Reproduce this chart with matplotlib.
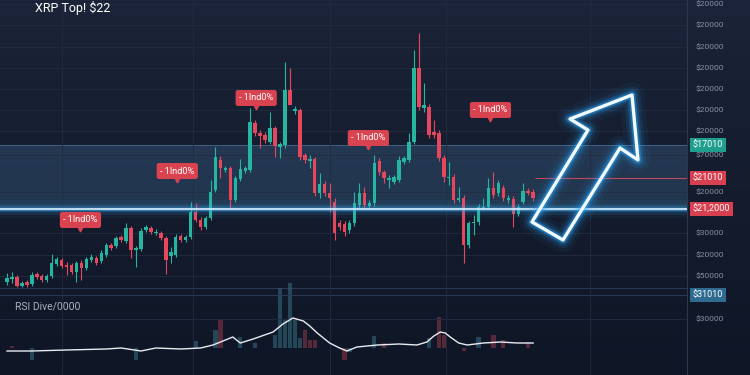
import numpy as np
import matplotlib.pyplot as plt
from matplotlib.patches import Polygon
from matplotlib.colors import LinearSegmentedColormap

plt.rcParams['font.family'] = ['Roboto', 'DejaVu Sans']

# candles (price units = px above panel bottom)
opens = [6, 9, 11, 2, 6, 4, 14, 12, 8, 12, 24, 28, 23, 23, 16, 25, 20, 28, 30, 27,
         33, 43, 42, 51, 47, 60, 38, 39, 58, 60, 55, 55, 50, 32, 33, 52, 48, 51, 76, 68,
         61, 70, 98, 128, 118, 120, 88, 109, 117, 118, 165, 155, 153, 146, 160, 141, 143, 198, 177, 178,
         133, 127, 129, 95, 104, 95, 86, 65, 64, 58, 65, 83, 95, 82, 85, 127, 116, 108, 106, 108,
         126, 128, 146, 220, 180, 181, 156, 155, 130, 110, 111, 88, 90, 43, 65, 66, 80, 81, 100, 95,
         100, 88, 89, 74, 86, 97, 96]
highs = [15, 16, 13, 7, 8, 16, 16, 14, 14, 34, 31, 30, 26, 25, 27, 28, 31, 34, 32, 38,
         45, 45, 52, 53, 65, 62, 42, 60, 63, 62, 59, 57, 52, 41, 54, 54, 53, 86, 85, 71,
         72, 108, 141, 132, 122, 122, 112, 129, 122, 180, 168, 158, 156, 176, 162, 146, 226, 220, 182, 180,
         135, 133, 131, 115, 107, 105, 90, 68, 67, 68, 96, 105, 101, 88, 133, 130, 118, 113, 113, 132,
         132, 155, 238, 255, 205, 184, 168, 158, 133, 126, 114, 101, 93, 67, 73, 84, 90, 110, 116, 108,
         103, 93, 92, 84, 105, 100, 99]
lows = [3, 5, 1, 1, 1, 2, 9, 6, 6, 10, 22, 20, 13, 14, 6, 8, 18, 26, 23, 25,
        31, 38, 40, 46, 45, 30, 21, 37, 56, 54, 53, 48, 14, 25, 31, 46, 46, 49, 66, 58,
        59, 68, 96, 110, 116, 80, 86, 107, 115, 116, 152, 140, 145, 144, 131, 130, 140, 184, 174, 128,
        125, 120, 92, 90, 92, 76, 48, 58, 52, 55, 62, 80, 80, 80, 82, 113, 105, 100, 104, 106,
        124, 126, 144, 178, 176, 150, 150, 127, 106, 103, 85, 86, 25, 40, 53, 63, 78, 79, 90, 92,
        87, 85, 61, 72, 84, 93, 87]
closes = [10, 11, 2, 5, 3, 13, 11, 8, 12, 25, 29, 22, 21, 16, 25, 20, 29, 31, 25, 35,
          43, 40, 50, 48, 60, 38, 40, 57, 61, 56, 56, 50, 28, 36, 51, 48, 51, 76, 68, 61,
          70, 96, 131, 120, 120, 88, 110, 119, 120, 166, 155, 152, 148, 160, 142, 144, 198, 183, 179, 131,
          128, 129, 95, 104, 95, 90, 55, 61, 56, 65, 85, 95, 83, 85, 125, 116, 110, 110, 111, 128,
          130, 146, 220, 181, 183, 153, 153, 130, 111, 111, 88, 90, 43, 65, 66, 81, 81, 100, 93, 105,
          90, 90, 74, 81, 97, 95, 90]

# right axis labels
tick_prices = [284, 263, 241, 220, 199, 178, 157, 133, 96, 55, 33, 12]
tick_labels = ['$20000', '$20000', '$20000', '$20000', '$20000', '$20000', '$20000',
               '$70000', '$20000', '$30000', '$20000', '$50000']

# price tags on the axis
tag_prices = [143, 110, 79]
tag_labels = ['$17010', '$21010', '$21,2000']
tag_colors = ['#1f9e8f', '#d9404f', '#d9404f']

# zone and levels
zone_low, zone_high = 79, 143
support = 79
resist = 110
resist_start = 106.4

# callouts
note_idx = [14.8, 34.3, 50.2, 72.8, 97.4]
note_price = [68, 117, 190, 150, 178]
note_text = '- 1lnd0%'

grid_idx = [11, 37.5, 65, 88.5, 117.5]

# RSI panel
rsi_idx = [0, 5, 12, 20, 23, 27, 30, 35, 39, 41.5, 45.5, 47, 49.6, 53.6, 55.6, 57.6, 59.7, 61, 62.5,
           65, 67, 68.5, 70.5, 74.6, 79, 82.6, 84.6, 86, 87.3, 88.3, 89.3, 91, 92.7, 96, 99.4, 102.8, 106]
rsi_val = [24, 24, 25, 26, 27, 24, 27, 26, 27, 30, 38, 32, 36, 43, 51, 57, 54, 49, 42,
           32, 27, 24, 28, 30, 31, 30, 33, 39, 43, 42, 38, 32, 30, 32, 33, 32, 32]
hist_idx = [1, 5, 26, 38, 42, 43, 47, 50, 54, 55, 56, 57, 58, 59, 60, 61, 62, 68, 69, 74,
            76, 85, 87, 88, 92, 95, 98, 100, 105]
hist_val = [2, -12, -12, 7, 18, 28, 11, 5, 13, 60, 28, 65, 30, 10, 18, 8, 8, -12, -4, 12,
            5, 10, 31, 13, -3, 11, 13, 8, 6]
hist_up = [0, 1, 1, 1, 1, 0, 1, 1, 1, 1, 1, 1, 1, 1, 0, 0, 0, 0, 1, 1,
           0, 1, 0, 0, 0, 1, 0, 0, 0]
rsi_base = 27
rsi_tick, rsi_tick_label = 56, '$30000'
rsi_tag, rsi_tag_label = 80, '$31010'

UP, DOWN = '#26b5a0', '#e5485c'
GRID = '#222c41'
x_max = 137.0

fig = plt.figure(figsize=(7.5, 3.75), dpi=100)

# background gradient
bg = fig.add_axes([0, 0, 1, 1], zorder=0)
cmap = LinearSegmentedColormap.from_list('bg', ['#1b2438', '#141c2e', '#0f1626'])
bg.imshow(np.linspace(0, 1, 256).reshape(-1, 1), aspect='auto', cmap=cmap, extent=[0, 1, 0, 1])
bg.axis('off')

# price panel
ax = fig.add_axes([0, 0.232, 0.916, 0.768], zorder=1)
ax.set_facecolor('none')
x = np.arange(len(opens))
o = np.array(opens); c = np.array(closes)
cols = [UP if cc >= oo else DOWN for oo, cc in zip(o, c)]
ax.axhspan(zone_low, zone_high, color='#4a7fae', alpha=0.27, lw=0, zorder=1)
ax.axhline(zone_high, color='#5d87ad', lw=0.6, alpha=0.6, zorder=1)
ax.vlines(x, lows, highs, colors=cols, lw=0.8, zorder=3)
body = np.maximum(np.abs(c - o), 1.2)
ax.bar(x, body, bottom=np.minimum(o, c), width=0.7, color=cols, zorder=4)

# glowing support line
for lw, a in [(13, 0.05), (8, 0.1), (4.5, 0.2), (2.4, 0.45)]:
    ax.axhline(support, color='#3fb4ff', lw=lw, alpha=a, zorder=5)
ax.axhline(support, color='#eaf7ff', lw=1.1, zorder=6)
ax.hlines(resist, resist_start, x_max, color='#c2485a', lw=0.8, zorder=2)

for i, p in zip(note_idx, note_price):
    ax.text(i, p, note_text, ha='center', va='center', fontsize=6.6, color='white', zorder=8,
            bbox=dict(boxstyle='round,pad=0.38,rounding_size=0.25', fc='#d9434f', ec='none'))
    ax.plot(i, p - 9, marker='v', ms=3.5, color='#d9434f', zorder=8)

ax.set_xlim(-1.41, x_max)
ax.set_ylim(0, 288)
ax.yaxis.tick_right()
ax.set_yticks(tick_prices, tick_labels)
ax.set_xticks(grid_idx)
ax.tick_params(axis='y', length=0, pad=6, labelsize=6, labelcolor='#8791a5')
ax.tick_params(axis='x', length=0, labelbottom=False)
ax.grid(color=GRID, lw=0.6, zorder=0)
for s in ['top', 'left']:
    ax.spines[s].set_visible(False)
ax.spines['right'].set_color('#2c3850')
ax.spines['bottom'].set_color('#2c3850')

for p, lab, col in zip(tag_prices, tag_labels, tag_colors):
    ax.text(1.008, p, lab, transform=ax.get_yaxis_transform(), ha='left', va='center',
            fontsize=6.5, color='white', zorder=9,
            bbox=dict(boxstyle='square,pad=0.3', fc=col, ec='none'))

# RSI panel
ax2 = fig.add_axes([0, 0, 0.916, 0.232], zorder=2)
ax2.set_facecolor('none')
hcols = ['#2f6273' if u else '#7e3242' for u in hist_up]
ax2.bar(hist_idx, hist_val, bottom=rsi_base, width=0.85, color=hcols, alpha=0.65, clip_on=False)
ax2.plot(rsi_idx, rsi_val, color='#e8ebf0', lw=1.0)
ax2.axhline(rsi_tag, color='#2c3850', lw=0.8)
ax2.text(0.022, 0.79, 'RSI Dive/0000', transform=ax2.transAxes, fontsize=7.5, color='#aab2c0',
         va='center')
ax2.set_xlim(-1.41, x_max)
ax2.set_ylim(0, 87)
ax2.yaxis.tick_right()
ax2.set_yticks([rsi_tick], [rsi_tick_label])
ax2.set_xticks(grid_idx)
ax2.tick_params(axis='y', length=0, pad=6, labelsize=6, labelcolor='#8791a5')
ax2.tick_params(axis='x', length=0, labelbottom=False)
ax2.grid(color=GRID, lw=0.6)
for s in ['top', 'left', 'bottom']:
    ax2.spines[s].set_visible(False)
ax2.spines['right'].set_color('#2c3850')
ax2.text(1.008, rsi_tag, rsi_tag_label, transform=ax2.get_yaxis_transform(), ha='left',
         va='center', fontsize=6.5, color='white',
         bbox=dict(boxstyle='square,pad=0.3', fc='#2f6b90', ec='none'))

# overlay: glowing arrow and title (pixel coords)
over = fig.add_axes([0, 0, 1, 1], zorder=10)
over.set_xlim(0, 750)
over.set_ylim(375, 0)
over.axis('off')
arrow = [(532, 222), (588, 130), (570, 119), (632, 95), (638, 160), (620, 148), (563, 240)]
for lw, a in [(18, 0.05), (12, 0.1), (8, 0.18), (5, 0.4)]:
    over.add_patch(Polygon(arrow, closed=True, fill=False, ec='#2aa8ff', lw=lw, alpha=a,
                           joinstyle='round'))
over.add_patch(Polygon(arrow, closed=True, fill=False, ec='#f2fbff', lw=2.4, joinstyle='round'))
over.text(35, 1, 'XRP Top! $22', fontsize=9, color='white', ha='left', va='top')

fig.savefig('out.png', dpi=100, facecolor='#141c2e')
